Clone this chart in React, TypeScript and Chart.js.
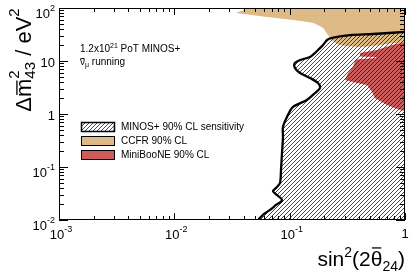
import React, { useEffect, useRef } from 'react';
import { Chart, registerables } from 'chart.js';

Chart.register(...registerables);

const FONT = '"Liberation Sans", Arial, Helvetica, sans-serif';

// axis ranges and decades
const X_MIN = 1e-3;
const X_MAX = 1;
const Y_MIN = 1e-2;
const Y_MAX = 1e2;
const X_DECADES = [-3, -2, -1, 0];
const Y_DECADES = [-2, -1, 0, 1, 2];

// MINOS+ 90% CL sensitivity contour
const sensX = [1.0, 0.528, 0.333, 0.233, 0.211, 0.195, 0.176, 0.166, 0.150, 0.123, 0.111, 0.111, 0.123, 0.150, 0.176, 0.183, 0.166, 0.141, 0.107, 0.0948, 0.0875, 0.0875, 0.0858, 0.0841, 0.0824, 0.0761, 0.0717, 0.0776, 0.0858, 0.0761, 0.0675, 0.0599, 0.0531];
const sensY = [35.3, 32.3, 30.9, 27.2, 24.9, 20.0, 16.1, 14.2, 11.9, 10.4, 9.17, 7.38, 5.94, 4.78, 3.85, 3.10, 2.49, 1.84, 1.36, 0.878, 0.569, 0.368, 0.184, 0.0878, 0.0499, 0.0402, 0.0352, 0.0296, 0.0238, 0.0192, 0.0155, 0.0130, 0.01];

// CCFR 90% CL region
const ccfrX = [0.0342, 0.0453, 1, 1, 0.787, 0.607, 0.407, 0.273, 0.2375, 0.215, 0.1946, 0.1594, 0.107, 0.0636];
const ccfrY = [80.5, 100, 100, 22.8, 21.9, 20.0, 18.4, 20.0, 23.9, 30.9, 41.9, 52.1, 59.4, 67.6];

// MiniBooNE 90% CL region
const mbX = [1, 0.770, 0.571, 0.407, 0.407, 0.561, 0.561, 0.376, 0.369, 0.354, 0.321, 0.302, 0.384, 0.469, 0.518, 0.549, 0.698, 0.906, 1];
const mbY = [22.8, 20.0, 16.1, 14.2, 12.2, 11.9, 11.4, 10.7, 10.0, 7.71, 5.94, 4.38, 3.85, 3.52, 2.60, 2.00, 1.48, 1.19, 1.14];

const legendLabels = ['MINOS+ 90% CL sensitivity', 'CCFR 90% CL', 'MiniBooNE 90% CL'];
const TAN = 'rgb(222,186,135)';
const RED = 'rgb(205,92,92)';

type Seg = { t?: string; s: number; dy?: number; bar?: 'x' | 'cap'; sup?: string; sub?: string; supDy?: number; subDy?: number };

function font(s: number) {
  return `${s}px ${FONT}`;
}

function segWidth(ctx: CanvasRenderingContext2D, g: Seg) {
  ctx.font = font(g.s);
  if (g.sup !== undefined || g.sub !== undefined) {
    return Math.max(ctx.measureText(g.sup || '').width, ctx.measureText(g.sub || '').width);
  }
  return ctx.measureText(g.t || '').width;
}

function drawRich(ctx: CanvasRenderingContext2D, segs: Seg[], x: number, y: number, align: 'left' | 'right' | 'center') {
  const widths = segs.map((g) => segWidth(ctx, g));
  const total = widths.reduce((a, b) => a + b, 0);
  let cx = align === 'left' ? x : align === 'right' ? x - total : x - total / 2;
  ctx.textAlign = 'left';
  ctx.textBaseline = 'alphabetic';
  segs.forEach((g, i) => {
    ctx.font = font(g.s);
    if (g.sup !== undefined || g.sub !== undefined) {
      if (g.sup) ctx.fillText(g.sup, cx, y + (g.supDy || 0));
      if (g.sub) ctx.fillText(g.sub, cx, y + (g.subDy || 0));
    } else {
      ctx.fillText(g.t || '', cx, y + (g.dy || 0));
      if (g.bar) {
        const h = g.bar === 'x' ? g.s * 0.52 : g.s * 0.74;
        const by = y + (g.dy || 0) - h - g.s * 0.12;
        ctx.save();
        ctx.lineWidth = Math.max(1, g.s * 0.06);
        ctx.beginPath();
        ctx.moveTo(cx + widths[i] * 0.1, by);
        ctx.lineTo(cx + widths[i] * 0.9, by);
        ctx.stroke();
        ctx.restore();
      }
    }
    cx += widths[i];
  });
}

function makeHatch(): CanvasPattern | string {
  const c = document.createElement('canvas');
  c.width = 4;
  c.height = 4;
  const g = c.getContext('2d');
  if (!g) return 'rgba(0,0,0,0.3)';
  g.strokeStyle = '#111';
  g.lineWidth = 0.75;
  g.beginPath();
  g.moveTo(0, 4);
  g.lineTo(4, 0);
  g.moveTo(-1, 1);
  g.lineTo(1, -1);
  g.moveTo(3, 5);
  g.lineTo(5, 3);
  g.stroke();
  return g.createPattern(c, 'repeat') || 'rgba(0,0,0,0.3)';
}

function pts(xs: number[], ys: number[]) {
  return xs.map((x, i) => ({ x, y: ys[i] }));
}

export default function App() {
  const ref = useRef<HTMLCanvasElement | null>(null);

  useEffect(() => {
    const canvas = ref.current;
    if (!canvas) return;
    const hatch = makeHatch();

    const overlay = {
      id: 'rootStyle',
      afterDraw(chart: any) {
        const ctx: CanvasRenderingContext2D = chart.ctx;
        const xs = chart.scales.x;
        const ys = chart.scales.y;
        const a = chart.chartArea;
        ctx.save();
        ctx.strokeStyle = '#000';
        ctx.fillStyle = '#000';

        // frame
        ctx.lineWidth = 1;
        ctx.strokeRect(a.left + 0.5, a.top + 0.5, a.right - a.left - 1, a.bottom - a.top - 1);

        // ticks
        ctx.beginPath();
        X_DECADES.forEach((d) => {
          const ks = d < 0 ? [1, 2, 3, 4, 5, 6, 7, 8, 9] : [1];
          ks.forEach((k) => {
            const px = Math.round(xs.getPixelForValue(k * Math.pow(10, d))) + 0.5;
            const len = k === 1 ? 7 : 4;
            ctx.moveTo(px, a.bottom);
            ctx.lineTo(px, a.bottom - len);
            ctx.moveTo(px, a.top);
            ctx.lineTo(px, a.top + len);
          });
        });
        Y_DECADES.forEach((d) => {
          const ks = d < 2 ? [1, 2, 3, 4, 5, 6, 7, 8, 9] : [1];
          ks.forEach((k) => {
            const py = Math.round(ys.getPixelForValue(k * Math.pow(10, d))) + 0.5;
            const len = k === 1 ? 9 : 5;
            ctx.moveTo(a.left, py);
            ctx.lineTo(a.left + len, py);
            ctx.moveTo(a.right, py);
            ctx.lineTo(a.right - len, py);
          });
        });
        ctx.stroke();

        // x tick labels
        X_DECADES.forEach((d) => {
          const px = xs.getPixelForValue(Math.pow(10, d));
          if (d === 0) {
            drawRich(ctx, [{ t: '1', s: 13 }], px, 238, 'center');
          } else {
            drawRich(ctx, [{ t: '10', s: 13 }, { t: String(d), s: 9, dy: -7 }], px + 2, 238.5, 'center');
          }
        });
        // y tick labels
        Y_DECADES.forEach((d) => {
          const py = ys.getPixelForValue(Math.pow(10, d));
          if (d === 0) {
            drawRich(ctx, [{ t: '1', s: 13 }], 55, py + 5.5, 'right');
          } else if (d === 1) {
            drawRich(ctx, [{ t: '10', s: 13 }], 55, py + 5.5, 'right');
          } else {
            drawRich(ctx, [{ t: '10', s: 13 }, { t: String(d), s: 9, dy: -7 }], 55, py + 9.5, 'right');
          }
        });

        // axis titles
        drawRich(
          ctx,
          [
            { t: 'sin', s: 21 },
            { t: '2', s: 14, dy: -9 },
            { t: '(2', s: 21 },
            { t: 'θ', s: 21, bar: 'cap' },
            { t: '24', s: 14, dy: 5 },
            { t: ')', s: 21 },
          ],
          405,
          266,
          'right'
        );
        ctx.save();
        ctx.translate(31, 60);
        ctx.rotate(-Math.PI / 2);
        drawRich(
          ctx,
          [
            { t: 'Δ', s: 22 },
            { t: 'm', s: 22, bar: 'x' },
            { s: 15, sup: '2', sub: '43', supDy: -12, subDy: 4 },
            { t: ' / eV', s: 22 },
            { t: '2', s: 15, dy: -12 },
          ],
          0,
          0,
          'center'
        );
        ctx.restore();

        // annotation text
        drawRich(ctx, [{ t: '1.2x10', s: 10 }, { t: '21', s: 7, dy: -4 }, { t: ' PoT MINOS+', s: 10 }], 80, 52, 'left');
        drawRich(ctx, [{ t: 'ν', s: 10, bar: 'x' }, { t: 'μ', s: 7, dy: 2 }, { t: ' running', s: 10 }], 80, 65, 'left');

        // legend
        const fills: (string | CanvasPattern)[] = [hatch, TAN, RED];
        const centers = [126.5, 140.5, 154.5];
        centers.forEach((cy, i) => {
          const bx = 81;
          const bw = 33;
          const bh = 9;
          const by = cy - bh / 2;
          ctx.fillStyle = '#fff';
          ctx.fillRect(bx, by, bw, bh);
          ctx.fillStyle = fills[i] as any;
          ctx.fillRect(bx, by, bw, bh);
          ctx.lineWidth = i === 0 ? 1.5 : 1;
          ctx.strokeStyle = '#000';
          ctx.strokeRect(bx + 0.5, by + 0.5, bw, bh);
          ctx.fillStyle = '#000';
          drawRich(ctx, [{ t: legendLabels[i], s: 10 }], 121, cy + 3.5, 'left');
        });
        ctx.restore();
      },
    };

    const chart = new Chart(canvas, {
      type: 'scatter',
      data: {
        datasets: [
          {
            label: 'MINOS+ contour',
            data: pts(sensX, sensY),
            showLine: true,
            borderColor: '#000',
            borderWidth: 2.3,
            backgroundColor: 'transparent',
            fill: false,
            tension: 0.3,
            pointRadius: 0,
            order: 0,
          },
          {
            label: legendLabels[0],
            data: [...pts(sensX, sensY), { x: 1, y: 0.01 }],
            showLine: true,
            borderWidth: 0,
            borderColor: 'transparent',
            backgroundColor: hatch as any,
            fill: 'shape',
            tension: 0.3,
            pointRadius: 0,
            order: 1,
          },
          {
            label: legendLabels[2],
            data: pts(mbX, mbY),
            showLine: true,
            borderWidth: 0,
            borderColor: 'transparent',
            backgroundColor: RED,
            fill: 'shape',
            tension: 0,
            pointRadius: 0,
            order: 2,
          },
          {
            label: legendLabels[1],
            data: pts(ccfrX, ccfrY),
            showLine: true,
            borderWidth: 0,
            borderColor: 'transparent',
            backgroundColor: TAN,
            fill: 'shape',
            tension: 0.2,
            pointRadius: 0,
            order: 3,
          },
        ] as any,
      },
      options: {
        animation: false,
        responsive: false,
        devicePixelRatio: 1,
        layout: { padding: { left: 59, right: 6, top: 8, bottom: 52 } },
        scales: {
          x: { type: 'logarithmic', min: X_MIN, max: X_MAX, display: false },
          y: { type: 'logarithmic', min: Y_MIN, max: Y_MAX, display: false },
        },
        plugins: {
          legend: { display: false },
          tooltip: { enabled: false },
        },
        elements: { point: { radius: 0 } },
      } as any,
      plugins: [overlay],
    });
    return () => chart.destroy();
  }, []);

  return (
    <div style={{ position: 'fixed', left: 0, top: 0, width: 411, height: 272, background: '#fff' }}>
      <canvas ref={ref} width={411} height={272} style={{ display: 'block', width: 411, height: 272 }} />
    </div>
  );
}
